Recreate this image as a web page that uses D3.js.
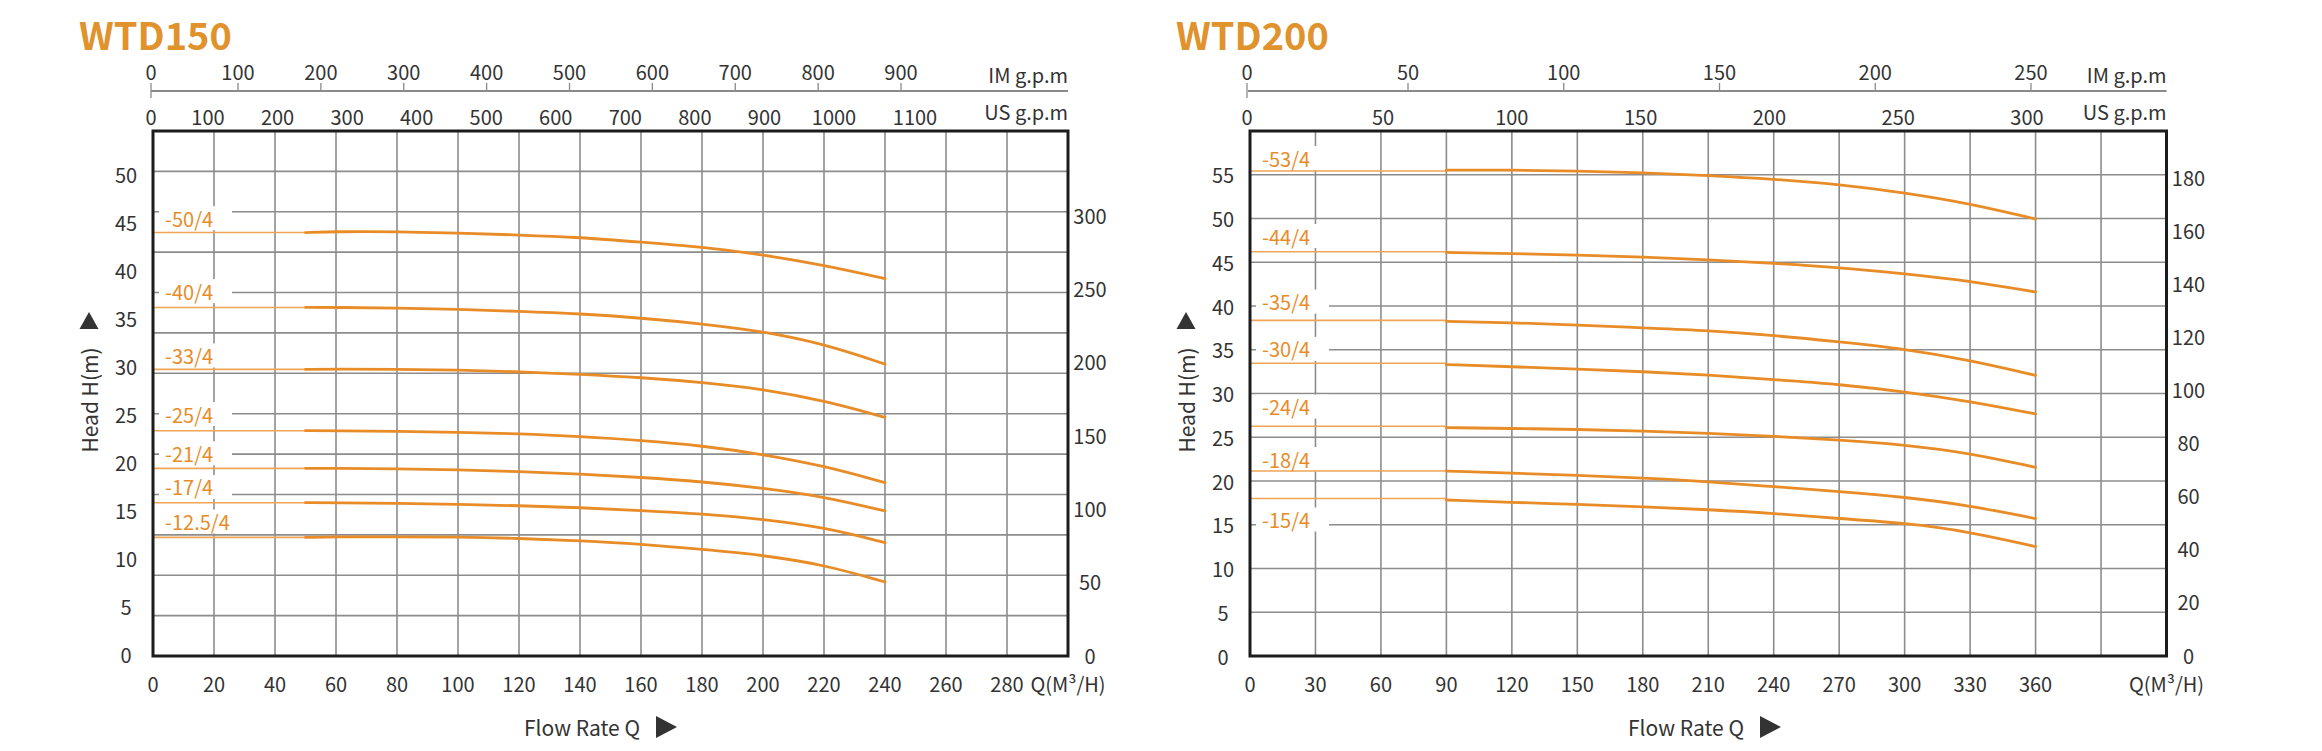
<!DOCTYPE html>
<html><head><meta charset="utf-8">
<script src="https://cdn.jsdelivr.net/npm/d3@7"></script>
<style>
body{margin:0;background:#fff}
svg{display:block}
text{font-family:"Noto Sans CJK SC","Noto Sans",sans-serif}
</style>
</head><body>
<svg id="c" width="2322" height="751"></svg>
<script>
// ---------------- DATA: WTD150 ----------------
const wtd150Title = "WTD150";
const wtd150Models = ["-50/4","-40/4","-33/4","-25/4","-21/4","-17/4","-12.5/4"];
const wtd150Flow = [50,60,80,100,120,140,160,180,200,220,240];
const wtd150Heads = [
  [43.9,44.0,44.0,43.85,43.65,43.4,42.9,42.4,41.6,40.5,39.1],
  [36.1,36.1,36.05,35.9,35.7,35.45,35.0,34.4,33.6,32.3,30.2],
  [29.65,29.7,29.65,29.6,29.4,29.15,28.8,28.3,27.6,26.4,24.65],
  [23.26,23.26,23.2,23.1,22.95,22.65,22.25,21.7,20.8,19.6,17.85],
  [19.34,19.34,19.3,19.2,19.0,18.75,18.4,17.95,17.3,16.4,14.9],
  [15.76,15.76,15.7,15.6,15.45,15.25,14.95,14.6,14.05,13.2,11.6],
  [12.15,12.2,12.2,12.19,12.05,11.8,11.45,10.9,10.3,9.3,7.5]
];
const wtd150ShutOff = [43.9,36.1,29.65,23.26,19.34,15.76,12.15];
const wtd150LabelHead = [45.4,37.8,31.1,25.0,20.9,17.4,13.8];
const wtd150FlowTicks = [0,20,40,60,80,100,120,140,160,180,200,220,240,260,280];
const wtd150HeadTicks = [0,5,10,15,20,25,30,35,40,45,50];
const wtd150FtTicks = [0,50,100,150,200,250,300];
const wtd150ImTicks = [0,100,200,300,400,500,600,700,800,900];
const wtd150UsTicks = [0,100,200,300,400,500,600,700,800,900,1000,1100];

// ---------------- DATA: WTD200 ----------------
const wtd200Title = "WTD200";
const wtd200Models = ["-53/4","-44/4","-35/4","-30/4","-24/4","-18/4","-15/4"];
const wtd200Flow = [90,120,150,180,210,240,270,300,330,360];
const wtd200Heads = [
  [55.54,55.54,55.43,55.24,54.9,54.5,53.9,52.95,51.7,49.94],
  [46.13,46.0,45.83,45.6,45.3,44.87,44.4,43.7,42.86,41.6],
  [38.25,38.1,37.83,37.5,37.2,36.65,35.9,35.1,33.8,32.08],
  [33.3,33.06,32.8,32.5,32.12,31.6,31.05,30.2,29.1,27.66],
  [26.1,26.0,25.9,25.7,25.47,25.1,24.7,24.15,23.2,21.56],
  [21.14,20.9,20.65,20.34,19.93,19.35,18.8,18.17,17.2,15.7],
  [17.83,17.56,17.33,17.06,16.73,16.3,15.7,15.2,14.2,12.5]
];
const wtd200ShutOff = [55.43,46.2,38.36,33.45,26.25,21.14,18.0];
const wtd200LabelHead = [56.9,48.0,40.5,35.1,28.5,22.5,15.6];
const wtd200FlowTicks = [0,30,60,90,120,150,180,210,240,270,300,330,360];
const wtd200HeadTicks = [0,5,10,15,20,25,30,35,40,45,50,55];
const wtd200FtTicks = [0,20,40,60,80,100,120,140,160,180];
const wtd200ImTicks = [0,50,100,150,200,250];
const wtd200UsTicks = [0,50,100,150,200,250,300];

const flowUnit = "Q(M³/H)";

// ---------------- STYLE ----------------
const ORANGE = "#E88C28", ORANGE_THIN = "#EFA555", TITLE = "#E0922C";
const INK = "#333333", GRID = "#8c8c8c", FRAME = "#1c1c1c";

const svg = d3.select("#c");

function drawChart(o) {
  const g = svg.append("g");
  const L = o.left, R = o.right, T = 131, B = 656;
  const x = d3.scaleLinear().domain(o.flowDomain).range([L, R]);
  const yH = d3.scaleLinear().domain(o.headDomain).range(o.headRange);
  const yF = d3.scaleLinear().domain(o.ftDomain).range(o.ftRange);
  const xIm = d3.scaleLinear().domain(o.imDomain).range(o.imRange);
  const xUs = d3.scaleLinear().domain(o.usDomain).range(o.usRange);

  // title
  g.append("text").attr("x", o.titleX).attr("y", 50)
    .attr("font-size", 38).attr("font-weight", 700).attr("fill", TITLE)
    .text(o.title);

  // top IM axis
  const axY = 91;
  g.append("line").attr("x1", L - 2).attr("x2", R).attr("y1", axY).attr("y2", axY)
    .attr("stroke", "#8a8a8a").attr("stroke-width", 2);
  g.selectAll(".imt").data(o.imTicks).join("line")
    .attr("x1", d => xIm(d)).attr("x2", d => xIm(d))
    .attr("y1", 83).attr("y2", d => d === 0 ? 98 : axY)
    .attr("stroke", "#8a8a8a").attr("stroke-width", 1.3);
  g.selectAll(".iml").data(o.imTicks).join("text")
    .attr("x", d => xIm(d)).attr("y", 80).attr("text-anchor", "middle")
    .attr("font-size", 20).attr("fill", INK).text(d => d);
  g.append("text").attr("x", R).attr("y", 83).attr("text-anchor", "end")
    .attr("font-size", 20).attr("fill", INK).text("IM g.p.m");
  // US labels
  g.selectAll(".usl").data(o.usTicks).join("text")
    .attr("x", d => xUs(d)).attr("y", 125).attr("text-anchor", "middle")
    .attr("font-size", 20).attr("fill", INK).text(d => d);
  g.append("text").attr("x", R).attr("y", 120).attr("text-anchor", "end")
    .attr("font-size", 20).attr("fill", INK).text("US g.p.m");

  // grid
  g.selectAll(".vg").data(o.vGrid).join("line")
    .attr("x1", d => x(d)).attr("x2", d => x(d)).attr("y1", T).attr("y2", B)
    .attr("stroke", GRID).attr("stroke-width", 1.6);
  g.selectAll(".hg").data(o.hGridY).join("line")
    .attr("x1", L).attr("x2", R).attr("y1", d => d).attr("y2", d => d)
    .attr("stroke", GRID).attr("stroke-width", 1.6);

  // label boxes (white background)
  g.selectAll(".lb").data(o.labelHead).join("rect")
    .attr("x", L + 6).attr("y", d => yH(d) - 12)
    .attr("width", 73).attr("height", 24).attr("fill", "#fff");

  // curves
  const flat = d3.line().x(d => x(d[0])).y(d => yH(d[1]));
  const line = d3.line().x(d => x(d[0])).y(d => yH(d[1])).curve(d3.curveBasis);
  o.heads.forEach((hs, i) => {
    g.append("path")
      .attr("d", flat([[0, o.shutOff[i]], [o.flow[0], o.shutOff[i]]]))
      .attr("fill", "none").attr("stroke", ORANGE_THIN).attr("stroke-width", 1.6);
    g.append("path")
      .attr("d", line(o.flow.map((q, j) => [q, hs[j]])))
      .attr("fill", "none").attr("stroke", ORANGE).attr("stroke-width", 2.8)
      .attr("stroke-linecap", "round");
  });

  // model labels
  g.selectAll(".ml").data(o.models).join("text")
    .attr("x", L + 12).attr("y", (d, i) => yH(o.labelHead[i]))
    .attr("dominant-baseline", "central")
    .attr("font-size", 20).attr("fill", ORANGE).text(d => d);

  // frame
  g.append("rect").attr("x", L).attr("y", T).attr("width", R - L).attr("height", B - T)
    .attr("fill", "none").attr("stroke", FRAME).attr("stroke-width", 3);

  // left head labels
  g.selectAll(".hl").data(o.headTicks).join("text")
    .attr("x", L - 27).attr("y", d => yH(d)).attr("text-anchor", "middle")
    .attr("dominant-baseline", "central").attr("font-size", 20).attr("fill", INK)
    .text(d => d);
  // right labels
  g.selectAll(".fl").data(o.ftTicks).join("text")
    .attr("x", R + 22).attr("y", d => yF(d)).attr("text-anchor", "middle")
    .attr("dominant-baseline", "central").attr("font-size", 20).attr("fill", INK)
    .text(d => d);

  // bottom flow labels
  g.selectAll(".ql").data(o.flowTicks).join("text")
    .attr("x", d => x(d)).attr("y", 683).attr("text-anchor", "middle")
    .attr("dominant-baseline", "central").attr("font-size", 20).attr("fill", INK)
    .text(d => d);
  g.append("text").attr("x", x(o.unitAt)).attr("y", 683).attr("text-anchor", "middle")
    .attr("dominant-baseline", "central").attr("font-size", 20).attr("fill", INK)
    .text(flowUnit);

  // axis titles
  const hx = L - 64;
  g.append("text").attr("transform", `translate(${hx},400) rotate(-90)`)
    .attr("text-anchor", "middle").attr("dominant-baseline", "central")
    .attr("font-size", 21).attr("fill", INK).text("Head H(m)");
  g.append("path").attr("d", `M${hx - 9.5},329 L${hx + 9.5},329 L${hx},312 Z`).attr("fill", INK);

  const fx = o.flowTitleX;
  g.append("text").attr("x", fx).attr("y", 727).attr("text-anchor", "end")
    .attr("dominant-baseline", "central").attr("font-size", 21).attr("fill", INK)
    .text("Flow Rate Q");
  g.append("path").attr("d", `M${fx + 16},716 L${fx + 16},738 L${fx + 37},727 Z`).attr("fill", INK);
}

// ---------- WTD150 ----------
(function () {
  const L = 153, R = 1068, T = 131, B = 656;
  const rows = d3.scaleLinear().domain([0, 13]).range([B, T]);
  drawChart({
    title: wtd150Title, titleX: 79, left: L, right: R,
    flowDomain: [0, 300], headDomain: [0, 50], headRange: [654, 174],
    ftDomain: [0, 300], ftRange: [655, 215],
    imDomain: [0, 100, 900], imRange: [151, 238, 901],
    usDomain: [0, 100, 1000, 1100], usRange: [151, 208, 834, 915],
    imTicks: wtd150ImTicks, usTicks: wtd150UsTicks,
    vGrid: d3.range(20, 300, 20), hGridY: d3.range(1, 13).map(rows),
    models: wtd150Models, flow: wtd150Flow, heads: wtd150Heads,
    shutOff: wtd150ShutOff, labelHead: wtd150LabelHead,
    headTicks: wtd150HeadTicks, ftTicks: wtd150FtTicks,
    flowTicks: wtd150FlowTicks, unitAt: 300, flowTitleX: 640
  });
})();

// ---------- WTD200 ----------
(function () {
  const L = 1250, R = 2166.5;
  const yH = d3.scaleLinear().domain([0, 60]).range([656, 131]);
  drawChart({
    title: wtd200Title, titleX: 1176, left: L, right: R,
    flowDomain: [0, 420], headDomain: [0, 60], headRange: [656, 131],
    ftDomain: [0, 180], ftRange: [655, 177],
    imDomain: [0, 50, 250], imRange: [1247, 1408, 2031],
    usDomain: [0, 50, 300], usRange: [1247, 1383, 2027],
    imTicks: wtd200ImTicks, usTicks: wtd200UsTicks,
    vGrid: d3.range(30, 420, 30), hGridY: d3.range(5, 60, 5).map(yH),
    models: wtd200Models, flow: wtd200Flow, heads: wtd200Heads,
    shutOff: wtd200ShutOff, labelHead: wtd200LabelHead,
    headTicks: wtd200HeadTicks, ftTicks: wtd200FtTicks,
    flowTicks: wtd200FlowTicks, unitAt: 420, flowTitleX: 1744
  });
})();
</script>
</body></html>
